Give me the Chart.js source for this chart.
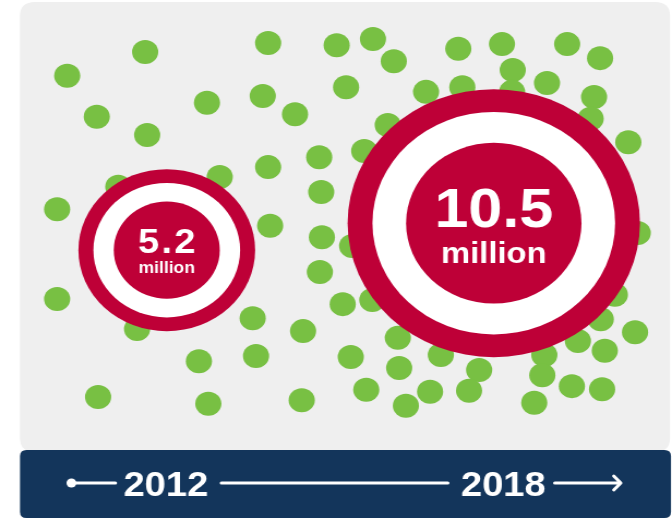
<!DOCTYPE html>
<html>
<head>
<meta charset="utf-8">
<title>5.2 million to 10.5 million, 2012–2018</title>
<script src="https://cdn.jsdelivr.net/npm/chart.js@4.4.1/dist/chart.umd.min.js"></script>
<style>
  html, body { margin: 0; padding: 0; background: #ffffff; overflow: hidden; }
  /* the artwork is laid out on a 616px-wide canvas and widened to 672px */
  #wrap { width: 616px; height: 519px; transform: scaleX(1.0909); transform-origin: 0 0; }
</style>
</head>
<body>
<div id="wrap"><canvas id="c"></canvas></div>
<script>
// ---- data -------------------------------------------------------------
// Scattered background dots, positions as percent of the field (0–100)
const dotX = [10.0, 21.6, 39.9, 50.1, 55.5, 58.6, 68.2, 74.7, 84.4, 89.3,
              76.3, 14.4, 21.9, 30.8, 39.1, 43.9, 51.5, 63.4, 68.8, 76.2,
              81.4, 88.4, 57.7, 87.9, 93.5, 54.2, 47.5, 39.9, 32.7, 17.6,
              8.5, 47.8, 40.2, 47.9, 52.4, 94.9, 47.6, 8.5, 20.4, 51.0,
              55.4, 37.6, 45.1, 29.6, 38.1, 14.6, 31.0, 44.9, 59.2, 52.2,
              59.4, 65.6, 71.3, 54.5, 60.4, 64.0, 69.8, 81.0, 80.7, 79.5,
              86.0, 90.0, 89.4, 94.5, 91.5, 85.1, 89.6];
const dotY = [14.6, 10.0, 8.3, 8.7, 7.5, 11.8, 9.4, 8.5, 8.5, 11.2,
              13.5, 22.5, 26.0, 19.8, 18.5, 22.0, 16.8, 17.7, 16.8, 17.7,
              16.0, 18.7, 24.1, 22.9, 27.4, 29.1, 30.3, 32.2, 34.1, 36.0,
              40.3, 37.0, 43.5, 45.7, 47.4, 44.9, 52.4, 57.6, 63.4, 58.6,
              57.8, 61.3, 63.8, 69.6, 68.6, 76.5, 77.8, 77.1, 65.1, 68.8,
              70.9, 68.4, 71.3, 75.1, 78.2, 75.5, 75.3, 68.4, 72.3, 77.6,
              65.7, 67.6, 61.5, 64.0, 56.8, 74.4, 75.0];

// Headline figures
const years = [2012, 2018];
const valuesMillions = [5.2, 10.5];
const valueLabels = ['5.2', '10.5'];
const unitLabel = 'million';
const circleY = [48.2, 43];        // vertical placement in the field (percent)

// Timeline along the bottom
const timelineYears = [2012, 2018];

// ---- styles -----------------------------------------------------------
const GREEN = '#78c043';
const RED = '#be0037';
const WHITE = '#ffffff';
const PANEL = '#efefef';
const NAVY = '#13355b';
const FONT = '"Liberation Sans", Arial, sans-serif';

// outer radius of a target grows with its value
const outerRadius = v => 29 + 10 * v;
const RING = 0.83, CORE = 0.6;

// per-target text styling: font sizes, baselines below centre, letter spacing
const labelStyle = [
  { num: 35, numBase: 3, unit: 16, unitBase: 23, spacing: 2 },
  { num: 56, numBase: 4, unit: 30, unitBase: 40, spacing: 0 }
];

// design layout (in 672 x 519 design units)
const DESIGN_W = 672;
const layout = {
  panel: { left: 20, top: 2, right: 670, bottom: 452, radius: 14 },
  bar: { left: 20, top: 450, right: 671, bottom: 518, radius: 6 },
  lineY: 483, textBase: 495.5, timelineFont: 35
};

// ---- chart ------------------------------------------------------------
const targets = years.map((yr, i) => ({ x: yr, y: circleY[i], v: valuesMillions[i] }));
const dots = dotX.map((x, i) => ({ x: x, y: dotY[i] }));

function roundRect(ctx, x0, y0, x1, y1, r) {
  ctx.beginPath();
  ctx.moveTo(x0 + r, y0);
  ctx.lineTo(x1 - r, y0);
  ctx.quadraticCurveTo(x1, y0, x1, y0 + r);
  ctx.lineTo(x1, y1 - r);
  ctx.quadraticCurveTo(x1, y1, x1 - r, y1);
  ctx.lineTo(x0 + r, y1);
  ctx.quadraticCurveTo(x0, y1, x0, y1 - r);
  ctx.lineTo(x0, y0 + r);
  ctx.quadraticCurveTo(x0, y0, x0 + r, y0);
  ctx.closePath();
}

const backdrop = {
  id: 'backdrop',
  beforeDraw(chart) {
    const ctx = chart.ctx, k = chart.width / DESIGN_W;
    ctx.save();
    ctx.fillStyle = WHITE;
    ctx.fillRect(0, 0, chart.width, chart.height);
    const p = layout.panel;
    ctx.fillStyle = PANEL;
    roundRect(ctx, p.left * k, p.top, p.right * k, p.bottom, p.radius);
    ctx.fill();
    ctx.restore();
  }
};

const targetLabels = {
  id: 'targetLabels',
  afterDatasetsDraw(chart) {
    const ctx = chart.ctx;
    const meta = chart.getDatasetMeta(0);
    ctx.save();
    ctx.fillStyle = WHITE;
    ctx.textAlign = 'center';
    ctx.textBaseline = 'alphabetic';
    meta.data.forEach((pt, i) => {
      const s = labelStyle[i];
      ctx.font = '700 ' + s.num + 'px ' + FONT;
      ctx.letterSpacing = s.spacing + 'px';
      ctx.fillText(valueLabels[i], pt.x + s.spacing / 2, pt.y + s.numBase);
      ctx.letterSpacing = '0px';
      ctx.font = '700 ' + s.unit + 'px ' + FONT;
      ctx.fillText(unitLabel, pt.x, pt.y + s.unitBase);
    });
    ctx.restore();
  }
};

const timeline = {
  id: 'timeline',
  afterDraw(chart) {
    const ctx = chart.ctx, k = chart.width / DESIGN_W;
    const b = layout.bar;
    ctx.save();
    ctx.fillStyle = NAVY;
    roundRect(ctx, b.left * k, b.top, b.right * k, b.bottom, b.radius);
    ctx.fill();

    const tl = chart.scales.tl;
    ctx.font = '700 ' + layout.timelineFont + 'px ' + FONT;
    ctx.fillStyle = WHITE;
    ctx.textAlign = 'center';
    ctx.textBaseline = 'alphabetic';
    const cx = timelineYears.map(y => tl.getPixelForValue(y));
    const w = timelineYears.map(y => ctx.measureText(String(y)).width);
    timelineYears.forEach((y, i) => ctx.fillText(String(y), cx[i], layout.textBase));

    const l0 = cx[0] - w[0] / 2, r0 = cx[0] + w[0] / 2;
    const l1 = cx[1] - w[1] / 2, r1 = cx[1] + w[1] / 2;
    const ly = layout.lineY;
    ctx.strokeStyle = WHITE;
    ctx.lineWidth = 3;
    ctx.lineCap = 'round';
    ctx.lineJoin = 'round';
    // start marker
    ctx.beginPath();
    ctx.arc(l0 - 52 * k, ly, 4.5, 0, Math.PI * 2);
    ctx.fill();
    ctx.beginPath();
    ctx.moveTo(l0 - 52 * k, ly); ctx.lineTo(l0 - 8 * k, ly);
    // span between the two years
    ctx.moveTo(r0 + 13 * k, ly); ctx.lineTo(l1 - 13 * k, ly);
    // trailing arrow
    const end = r1 + 75 * k;
    ctx.moveTo(r1 + 9 * k, ly); ctx.lineTo(end, ly);
    ctx.moveTo(end - 7 * k, ly - 7); ctx.lineTo(end, ly); ctx.lineTo(end - 7 * k, ly + 7);
    ctx.stroke();
    ctx.restore();
  }
};

const radiusFor = f => c => (c.raw ? outerRadius(c.raw.v) * f : 0);

new Chart(document.getElementById('c'), {
  type: 'scatter',
  data: {
    datasets: [
      { label: 'core', data: targets, xAxisID: 'x', yAxisID: 'fy', order: 0, clip: false,
        backgroundColor: RED, pointRadius: radiusFor(CORE), pointHoverRadius: radiusFor(CORE) },
      { label: 'ring', data: targets, xAxisID: 'x', yAxisID: 'fy', order: 1, clip: false,
        backgroundColor: WHITE, pointRadius: radiusFor(RING), pointHoverRadius: radiusFor(RING) },
      { label: 'outer', data: targets, xAxisID: 'x', yAxisID: 'fy', order: 2, clip: false,
        backgroundColor: RED, pointRadius: radiusFor(1), pointHoverRadius: radiusFor(1) },
      { label: 'dots', data: dots, xAxisID: 'fx', yAxisID: 'fy', order: 3, clip: false,
        backgroundColor: GREEN, pointRadius: 12, pointHoverRadius: 12 }
    ]
  },
  options: {
    responsive: true,
    maintainAspectRatio: false,
    animation: false,
    events: [],
    layout: { padding: 0, autoPadding: false },
    elements: { point: { borderWidth: 0, hoverBorderWidth: 0 } },
    plugins: { legend: { display: false }, tooltip: { enabled: false } },
    scales: {
      x:  { type: 'linear', axis: 'x', min: 2008.94, max: 2021.27, display: false },
      fx: { type: 'linear', axis: 'x', min: 0, max: 100, display: false },
      tl: { type: 'linear', axis: 'x', min: 2009.05, max: 2021.0, display: false },
      fy: { type: 'linear', axis: 'y', min: 0, max: 100, reverse: true, display: false }
    }
  },
  plugins: [backdrop, targetLabels, timeline]
});
</script>
</body>
</html>
